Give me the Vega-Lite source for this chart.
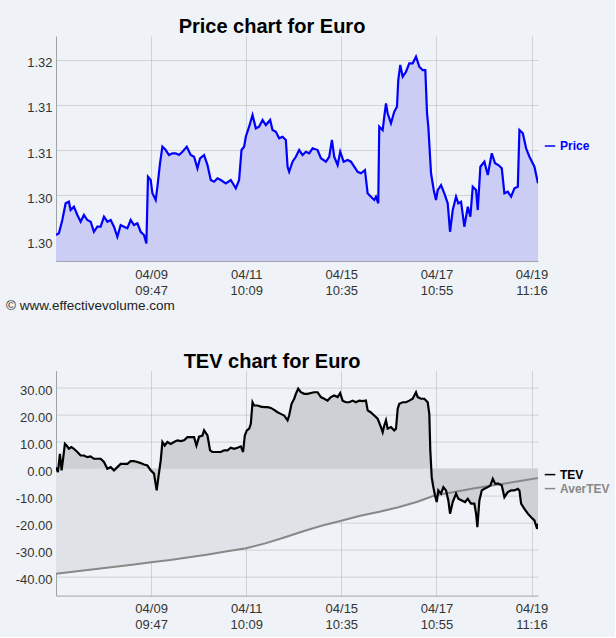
{
  "$schema": "https://vega.github.io/schema/vega-lite/v6.json",
  "background": "#eff3f7",
  "padding": {"left": 5, "top": 17, "right": 5, "bottom": 5},
  "config": {
    "view": {"stroke": null},
    "font": "Liberation Sans",
    "axis": {
      "labelFont": "Liberation Sans",
      "labelFontSize": 13,
      "labelColor": "#333333",
      "gridColor": "#888888",
      "gridOpacity": 0.3,
      "domainColor": "#9fa3a8",
      "ticks": false,
      "tickSize": 0,
      "labelPadding": 4,
      "labelOverlap": false,
      "zindex": 1
    },
    "axisX": {"labelPadding": 7},
    "legend": {
      "symbolType": "stroke",
      "symbolSize": 110,
      "symbolStrokeWidth": 1.5,
      "labelFont": "Liberation Sans",
      "labelFontSize": 12,
      "labelFontWeight": "bold",
      "padding": 0,
      "rowPadding": 2,
      "labelOffset": 4
    },
    "title": {
      "font": "Liberation Sans",
      "fontSize": 20,
      "fontWeight": "bold",
      "color": "#000000",
      "anchor": "middle",
      "frame": "group",
      "dx": -25,
      "baseline": "alphabetic",
      "offset": 0
    }
  },
  "spacing": 39.6,
  "resolve": {"scale": {"color": "independent", "x": "independent", "y": "independent"}, "legend": {"color": "independent"}},
  "vconcat": [
    {
      "width": 482,
      "height": 225,
      "title": {"text": "Price chart for Euro", "dy": 5},
      "data": {"name": "price"},
      "encoding": {
        "x": {
          "field": "t", "type": "quantitative",
          "scale": {"domain": [0, 126.7], "nice": false, "zero": false},
          "axis": {
            "values": [25, 50, 75, 100, 125],
            "labelExpr": "datum.value==25?['04/09','09:47']:datum.value==50?['04/11','10:09']:datum.value==75?['04/15','10:35']:datum.value==100?['04/17','10:55']:['04/19','11:16']",
            "labelLineHeight": 16,
            "labelFlush": false,
            "grid": true,
            "title": "© www.effectivevolume.com",
            "titleX": -50.4,
            "titleY": 44,
            "titleAlign": "left",
            "titleBaseline": "middle",
            "titleFontSize": 13.5,
            "titleFontWeight": "normal",
            "titleColor": "#222222",
            "titleFont": "Liberation Sans"
          }
        },
        "y": {
          "field": "p", "type": "quantitative",
          "scale": {"domain": [1.29776, 1.32262], "nice": false, "zero": false},
          "axis": {"values": [1.30, 1.305, 1.31, 1.315, 1.32], "format": ".2f", "grid": true, "labelOffset": 3, "title": null}
        }
      },
      "layer": [
        {
          "mark": {"type": "area", "color": "#cbcdf5", "opacity": 1, "clip": true},
          "encoding": {"y2": {"datum": 1.29776}}
        },
        {
          "mark": {"type": "line", "strokeWidth": 2.2, "clip": true},
          "encoding": {
            "color": {
              "datum": "Price",
              "scale": {"domain": ["Price"], "range": ["#0000ff"]},
              "legend": {"orient": "none", "legendX": 488, "legendY": 104, "title": null, "labelColor": "#0000ff"}
            }
          }
        }
      ]
    },
    {
      "width": 482,
      "height": 225,
      "title": {"text": "TEV chart for Euro", "offset": 1, "dy": 2},
      "encoding": {
        "x": {
          "field": "t", "type": "quantitative",
          "scale": {"domain": [0, 126.7], "nice": false, "zero": false},
          "axis": {
            "values": [25, 50, 75, 100, 125],
            "labelExpr": "datum.value==25?['04/09','09:47']:datum.value==50?['04/11','10:09']:datum.value==75?['04/15','10:35']:datum.value==100?['04/17','10:55']:['04/19','11:16']",
            "labelLineHeight": 16,
            "labelFlush": false,
            "grid": true,
            "title": null
          }
        },
        "y": {
          "field": "v", "type": "quantitative",
          "scale": {"domain": [-46.9, 36.3], "nice": false, "zero": false},
          "axis": {"values": [-40, -30, -20, -10, 0, 10, 20, 30], "labelExpr": "(datum.value<0?'-':'')+format(abs(datum.value),'.2f')", "grid": true, "labelOffset": 3, "title": null}
        }
      },
      "layer": [
        {
          "data": {"name": "aver"},
          "mark": {"type": "area", "color": "#dfe2e6", "opacity": 1},
          "encoding": {"y2": {"datum": 0}}
        },
        {
          "data": {"name": "tev"},
          "mark": {"type": "area", "color": "#cdd0d4", "opacity": 1},
          "encoding": {"y2": {"datum": 0}}
        },
        {
          "data": {"name": "aver"},
          "mark": {"type": "line", "strokeWidth": 2, "clip": true},
          "encoding": {
            "color": {
              "datum": "AverTEV",
              "scale": {"domain": ["TEV", "AverTEV"], "range": ["#000000", "#888888"]},
              "legend": {
                "orient": "none", "legendX": 488, "legendY": 98, "title": null,
                "encode": {"labels": {"update": {"fill": [{"test": "datum.value === 'TEV'", "value": "#000000"}, {"value": "#888888"}]}}}
              }
            }
          }
        },
        {
          "data": {"name": "tev"},
          "mark": {"type": "line", "strokeWidth": 2.2, "clip": true},
          "encoding": {"color": {"datum": "TEV"}}
        }
      ]
    }
  ],
  "datasets": {
    "price": [
      {"t":0,"p":1.30063},{"t":0.76,"p":1.30082},{"t":1.66,"p":1.30229},{"t":2.53,"p":1.30413},{"t":3.39,"p":1.30431},{"t":3.84,"p":1.30339},{"t":4.71,"p":1.30376},{"t":5.61,"p":1.30284},{"t":6.47,"p":1.3021},{"t":7.34,"p":1.30284},{"t":8.24,"p":1.30229},{"t":9.11,"p":1.3021},{"t":9.97,"p":1.30099},{"t":10.87,"p":1.30155},{"t":11.74,"p":1.30155},{"t":12.61,"p":1.30265},{"t":13.5,"p":1.3021},{"t":14.37,"p":1.30229},{"t":15.24,"p":1.30155},{"t":16.13,"p":1.30044},{"t":17.0,"p":1.30173},{"t":17.87,"p":1.30155},{"t":18.76,"p":1.30137},{"t":19.63,"p":1.30229},{"t":20.5,"p":1.30173},{"t":21.39,"p":1.30192},{"t":22.26,"p":1.30099},{"t":23.13,"p":1.30063},{"t":23.76,"p":1.29971},{"t":24.18,"p":1.30707},{"t":24.89,"p":1.30671},{"t":25.34,"p":1.30524},{"t":26.21,"p":1.3045},{"t":26.66,"p":1.30597},{"t":27.34,"p":1.30855},{"t":27.97,"p":1.31039},{"t":28.84,"p":1.31002},{"t":29.71,"p":1.30947},{"t":30.61,"p":1.30966},{"t":31.47,"p":1.30966},{"t":32.34,"p":1.30947},{"t":33.24,"p":1.30983},{"t":34.37,"p":1.31039},{"t":35.42,"p":1.30947},{"t":36.29,"p":1.30928},{"t":37.18,"p":1.308},{"t":37.87,"p":1.30911},{"t":38.92,"p":1.30947},{"t":39.82,"p":1.30836},{"t":40.68,"p":1.30671},{"t":41.55,"p":1.30652},{"t":42.45,"p":1.3069},{"t":43.32,"p":1.30671},{"t":44.63,"p":1.30634},{"t":45.95,"p":1.30671},{"t":47.26,"p":1.30579},{"t":48.13,"p":1.30671},{"t":48.76,"p":1.31002},{"t":49.45,"p":1.31039},{"t":49.89,"p":1.31149},{"t":50.76,"p":1.3126},{"t":51.66,"p":1.31389},{"t":52.53,"p":1.31242},{"t":53.39,"p":1.3126},{"t":54.29,"p":1.31334},{"t":55.16,"p":1.31278},{"t":56.29,"p":1.31334},{"t":56.92,"p":1.31223},{"t":57.79,"p":1.31204},{"t":58.66,"p":1.31132},{"t":59.55,"p":1.31149},{"t":60.42,"p":1.31113},{"t":60.87,"p":1.30818},{"t":61.29,"p":1.30762},{"t":62.18,"p":1.30873},{"t":63.05,"p":1.30928},{"t":63.92,"p":1.31002},{"t":64.82,"p":1.30947},{"t":65.68,"p":1.30983},{"t":66.55,"p":1.30966},{"t":67.45,"p":1.31021},{"t":68.76,"p":1.31002},{"t":69.63,"p":1.30911},{"t":70.95,"p":1.30873},{"t":71.82,"p":1.30928},{"t":72.53,"p":1.31113},{"t":73.13,"p":1.30928},{"t":74.03,"p":1.30836},{"t":74.71,"p":1.30983},{"t":75.61,"p":1.30873},{"t":76.66,"p":1.30892},{"t":77.53,"p":1.30873},{"t":78.39,"p":1.30818},{"t":79.29,"p":1.30762},{"t":80.16,"p":1.30745},{"t":81.21,"p":1.30781},{"t":81.92,"p":1.30524},{"t":82.79,"p":1.30486},{"t":83.66,"p":1.3045},{"t":84.11,"p":1.30486},{"t":84.71,"p":1.30413},{"t":84.97,"p":1.3126},{"t":85.87,"p":1.31223},{"t":86.29,"p":1.3137},{"t":86.74,"p":1.31518},{"t":87.18,"p":1.31408},{"t":88.05,"p":1.31297},{"t":88.92,"p":1.31425},{"t":89.63,"p":1.31481},{"t":89.97,"p":1.31776},{"t":90.5,"p":1.31942},{"t":91.13,"p":1.31812},{"t":92.0,"p":1.31867},{"t":92.87,"p":1.3196},{"t":93.76,"p":1.3196},{"t":94.63,"p":1.32033},{"t":95.5,"p":1.31923},{"t":96.39,"p":1.31886},{"t":97.08,"p":1.31886},{"t":97.53,"p":1.31408},{"t":97.87,"p":1.3126},{"t":98.58,"p":1.30745},{"t":99.29,"p":1.3056},{"t":99.89,"p":1.3045},{"t":100.34,"p":1.3056},{"t":101.21,"p":1.30615},{"t":102.08,"p":1.30524},{"t":102.97,"p":1.30413},{"t":103.58,"p":1.30099},{"t":104.29,"p":1.30339},{"t":105.16,"p":1.30486},{"t":105.76,"p":1.30413},{"t":106.47,"p":1.30431},{"t":107.34,"p":1.30155},{"t":108.24,"p":1.30376},{"t":108.92,"p":1.30265},{"t":109.55,"p":1.30597},{"t":110.42,"p":1.3056},{"t":110.87,"p":1.30339},{"t":111.55,"p":1.30818},{"t":112.61,"p":1.30873},{"t":113.5,"p":1.30726},{"t":114.55,"p":1.30966},{"t":115.42,"p":1.30855},{"t":116.29,"p":1.30836},{"t":117.18,"p":1.308},{"t":117.87,"p":1.30524},{"t":118.76,"p":1.30541},{"t":119.63,"p":1.30486},{"t":120.5,"p":1.30579},{"t":121.39,"p":1.30597},{"t":121.82,"p":1.31223},{"t":122.71,"p":1.31187},{"t":123.58,"p":1.31021},{"t":124.45,"p":1.30928},{"t":124.89,"p":1.30892},{"t":125.76,"p":1.30818},{"t":126.7,"p":1.30634}
    ],
    "tev": [
      {"t":0,"v":0.5},{"t":0.5,"v":-1.2},{"t":1.03,"v":5.5},{"t":1.47,"v":-0.6},{"t":1.92,"v":4.3},{"t":2.34,"v":9.2},{"t":2.79,"v":8.6},{"t":3.39,"v":7.4},{"t":4.03,"v":8.0},{"t":4.71,"v":7.4},{"t":5.61,"v":6.2},{"t":6.47,"v":4.9},{"t":7.34,"v":4.9},{"t":8.24,"v":4.3},{"t":9.11,"v":4.6},{"t":9.97,"v":3.7},{"t":10.87,"v":3.7},{"t":11.74,"v":3.7},{"t":12.61,"v":2.5},{"t":13.5,"v":0},{"t":14.37,"v":0.6},{"t":15.24,"v":-0.6},{"t":16.13,"v":0.6},{"t":17.0,"v":1.8},{"t":17.87,"v":1.8},{"t":18.76,"v":1.8},{"t":19.63,"v":2.8},{"t":20.5,"v":2.8},{"t":21.39,"v":2.5},{"t":22.26,"v":2.1},{"t":23.13,"v":1.6},{"t":24.03,"v":1.2},{"t":24.89,"v":-0.6},{"t":25.76,"v":-1.8},{"t":26.47,"v":-8.0},{"t":26.92,"v":-3.1},{"t":27.53,"v":3.1},{"t":27.97,"v":9.9},{"t":28.58,"v":8.6},{"t":29.29,"v":9.9},{"t":30.16,"v":9.2},{"t":31.03,"v":9.9},{"t":31.92,"v":10.5},{"t":32.79,"v":10.2},{"t":33.66,"v":10.5},{"t":34.55,"v":11.7},{"t":35.42,"v":11.7},{"t":36.29,"v":11.7},{"t":36.92,"v":8.6},{"t":37.61,"v":11.9},{"t":38.5,"v":12.3},{"t":38.92,"v":14.2},{"t":39.82,"v":12.3},{"t":40.5,"v":6.8},{"t":41.13,"v":6.2},{"t":42.0,"v":6.2},{"t":43.32,"v":6.2},{"t":44.18,"v":6.8},{"t":45.08,"v":6.8},{"t":45.95,"v":7.8},{"t":46.82,"v":7.4},{"t":47.71,"v":7.8},{"t":48.58,"v":8.3},{"t":49.18,"v":6.2},{"t":49.63,"v":12.3},{"t":50.16,"v":14.2},{"t":50.76,"v":14.8},{"t":51.21,"v":16.6},{"t":51.66,"v":24.6},{"t":52.08,"v":23.4},{"t":52.97,"v":23.4},{"t":53.84,"v":23.0},{"t":54.71,"v":22.8},{"t":55.61,"v":22.8},{"t":56.47,"v":22.5},{"t":57.34,"v":21.8},{"t":58.24,"v":20.9},{"t":59.1,"v":20.3},{"t":59.97,"v":19.7},{"t":60.87,"v":17.9},{"t":61.29,"v":19.7},{"t":61.92,"v":24.0},{"t":62.61,"v":25.9},{"t":63.05,"v":27.7},{"t":63.66,"v":29.6},{"t":64.37,"v":28.3},{"t":65.24,"v":27.7},{"t":66.13,"v":27.7},{"t":67.0,"v":28.0},{"t":67.87,"v":28.3},{"t":68.76,"v":28.3},{"t":69.63,"v":26.5},{"t":70.5,"v":25.9},{"t":71.39,"v":25.2},{"t":72.26,"v":26.5},{"t":73.13,"v":27.1},{"t":74.03,"v":26.5},{"t":74.71,"v":28.0},{"t":75.34,"v":25.2},{"t":76.21,"v":24.6},{"t":77.08,"v":24.6},{"t":77.97,"v":25.2},{"t":78.84,"v":24.6},{"t":79.71,"v":25.2},{"t":80.61,"v":25.0},{"t":81.47,"v":25.2},{"t":81.92,"v":21.6},{"t":82.7,"v":20.9},{"t":83.66,"v":19.7},{"t":84.55,"v":18.5},{"t":85.42,"v":15.4},{"t":85.87,"v":13.5},{"t":86.29,"v":16.0},{"t":86.74,"v":17.9},{"t":87.18,"v":14.8},{"t":88.05,"v":15.4},{"t":88.92,"v":14.2},{"t":89.37,"v":14.8},{"t":89.82,"v":22.2},{"t":90.24,"v":24.0},{"t":91.13,"v":24.6},{"t":92.0,"v":24.6},{"t":92.87,"v":25.2},{"t":93.76,"v":25.9},{"t":94.63,"v":28.3},{"t":95.08,"v":26.5},{"t":95.95,"v":25.9},{"t":96.82,"v":25.9},{"t":97.71,"v":24.6},{"t":98.13,"v":20.3},{"t":98.39,"v":6.8},{"t":98.76,"v":-3.1},{"t":99.11,"v":-6.2},{"t":99.63,"v":-9.9},{"t":100.08,"v":-12.3},{"t":100.5,"v":-8.0},{"t":101.21,"v":-9.2},{"t":101.82,"v":-6.8},{"t":102.53,"v":-8.0},{"t":103.13,"v":-11.7},{"t":103.58,"v":-16.6},{"t":104.29,"v":-12.3},{"t":105.16,"v":-9.2},{"t":105.76,"v":-11.1},{"t":106.66,"v":-11.7},{"t":107.53,"v":-12.3},{"t":108.24,"v":-11.1},{"t":109.1,"v":-12.9},{"t":109.97,"v":-12.9},{"t":110.42,"v":-16.6},{"t":110.76,"v":-21.6},{"t":111.29,"v":-11.7},{"t":111.92,"v":-8.0},{"t":112.61,"v":-7.4},{"t":113.5,"v":-6.8},{"t":114.18,"v":-6.2},{"t":114.82,"v":-3.7},{"t":115.42,"v":-5.5},{"t":116.29,"v":-5.5},{"t":117.18,"v":-6.2},{"t":117.87,"v":-10.5},{"t":118.76,"v":-8.6},{"t":119.63,"v":-8.0},{"t":120.5,"v":-8.0},{"t":121.39,"v":-7.4},{"t":121.82,"v":-8.0},{"t":122.26,"v":-12.9},{"t":123.13,"v":-14.8},{"t":124.03,"v":-16.6},{"t":124.89,"v":-17.9},{"t":125.76,"v":-19.1},{"t":126.47,"v":-22.2},{"t":126.7,"v":-20.3}
    ],
    "aver": [
      {"t":0,"v":-38.8},{"t":10,"v":-37.2},{"t":20,"v":-35.5},{"t":25,"v":-34.6},{"t":30,"v":-33.7},{"t":40,"v":-31.7},{"t":45,"v":-30.5},{"t":50,"v":-29.4},{"t":55,"v":-27.6},{"t":60,"v":-25.4},{"t":65,"v":-23.1},{"t":70,"v":-21.0},{"t":75,"v":-19.2},{"t":80,"v":-17.4},{"t":85,"v":-15.9},{"t":90,"v":-14.2},{"t":95,"v":-12.2},{"t":99.5,"v":-9.9},{"t":105,"v":-8.5},{"t":110,"v":-7.2},{"t":115,"v":-6.1},{"t":120,"v":-5.0},{"t":126.7,"v":-3.4}
    ]
  }
}
